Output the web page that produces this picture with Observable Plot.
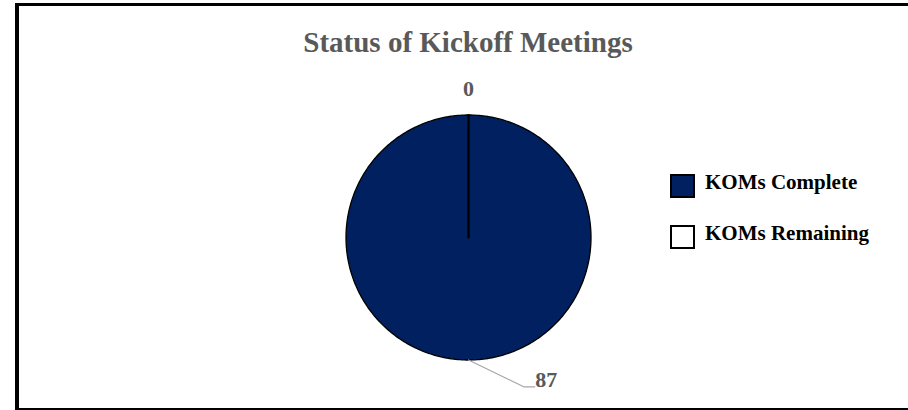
<!DOCTYPE html>
<html>
<head>
<meta charset="utf-8">
<script src="https://cdn.jsdelivr.net/npm/d3@7"></script>
<script src="https://cdn.jsdelivr.net/npm/@observablehq/plot@0.6"></script>
<style>
html, body { margin: 0; padding: 0; background: #fff; overflow: hidden; width: 908px; height: 410px; }
#wrap { position: relative; width: 908px; height: 410px; font-family: "Liberation Serif", "Times New Roman", serif; }
#chart { position: absolute; left: 0; top: 0; }
#frame { position: absolute; left: 15px; top: 3px; width: 1000px; height: 402px;
  border-top: 3px solid #000; border-left: 4px solid #000; border-bottom: 2px solid #000; pointer-events: none; }
#title { position: absolute; left: 0; width: 936px; top: 28px; text-align: center; font-weight: bold;
  font-size: 29px; line-height: 29px; color: #595959; white-space: nowrap; }
.sw { position: absolute; left: 670px; width: 21px; height: 20px; border: 2px solid #000; box-sizing: content-box; }
.lt { position: absolute; left: 705px; font-weight: bold; font-size: 21px; line-height: 21px; color: #000; white-space: nowrap; }
</style>
</head>
<body>
<div id="wrap">
  <div id="chart"></div>
  <div id="title"></div>
  <div id="legend"></div>
  <div id="frame"></div>
</div>
<script>
// ---- data ----
const title = "Status of Kickoff Meetings";
const categories = ["KOMs Complete", "KOMs Remaining"];
const values = [87, 0];
const colors = ["#002060", "#ffffff"];

// ---- layout constants ----
const W = 908, H = 410;
const CX = 468, CY = 237, R = 122.5;   // pie centre and radius in pixels

// pie angles (clockwise from 12 o'clock, like the spreadsheet)
const arcs = d3.pie().sort(null).startAngle(0).endAngle(2 * Math.PI)(values);

// polygons in unit coordinates (radius 1, y up)
const poly = [];
arcs.forEach((a, i) => {
  const span = a.endAngle - a.startAngle;
  const n = Math.max(2, Math.ceil(span / (Math.PI / 180)));
  poly.push({cat: categories[i], value: values[i], x: 0, y: 0});
  for (let k = 0; k <= n; k++) {
    const t = a.startAngle + span * k / n;
    poly.push({cat: categories[i], value: values[i], x: Math.sin(t), y: Math.cos(t)});
  }
  poly.push({cat: categories[i], value: values[i], x: 0, y: 0});
});

// data labels
const labels = arcs.map((a, i) => {
  const mid = (a.startAngle + a.endAngle) / 2;
  return {cat: categories[i], value: values[i], mid, x: Math.sin(mid) * 1.215, y: Math.cos(mid) * 1.215};
});
// the large slice's label sits beside the bottom of the pie with a leader line
const big = labels[0];
const leaderShift = 0.545, leaderDrop = -1.16;
const leader = [
  {x: Math.sin(big.mid), y: Math.cos(big.mid)},
  {x: leaderShift - 0.09, y: leaderDrop - 0.06},
  {x: leaderShift - 0.005, y: leaderDrop - 0.06}
];
big.x = leaderShift; big.y = leaderDrop; big.anchor = "start";
labels[1].anchor = "middle";

const font = '"Liberation Serif", "Times New Roman", serif';

const chart = Plot.plot({
  width: W, height: H, margin: 0,
  x: {domain: [-CX / R, (W - CX) / R], axis: null},
  y: {domain: [(CY - H) / R, CY / R], axis: null},
  color: {domain: categories, range: colors},
  style: {background: "transparent", fontFamily: font},
  marks: [
    Plot.line(poly.filter(d => d.value > 0), {x: "x", y: "y", z: "cat", fill: "cat", stroke: "#000", strokeWidth: 1.3, curve: "linear"}),
    Plot.line(poly.filter(d => d.value === 0), {x: "x", y: "y", z: "cat", fill: "cat", stroke: "#000", strokeWidth: 2.2, curve: "linear"}),
    Plot.line(leader, {x: "x", y: "y", stroke: "#a6a6a6", strokeWidth: 1.2}),
    Plot.text(labels.filter(d => d.anchor === "start"), {x: "x", y: "y", text: d => String(d.value), textAnchor: "start",
      fontSize: 22, fontWeight: "bold", fill: "#595959", fontFamily: font}),
    Plot.text(labels.filter(d => d.anchor === "middle"), {x: "x", y: "y", text: d => String(d.value), textAnchor: "middle",
      fontSize: 22, fontWeight: "bold", fill: "#595959", fontFamily: font})
  ]
});
document.getElementById("chart").appendChild(chart);
document.getElementById("title").textContent = title;

// legend
const lg = document.getElementById("legend");
categories.forEach((c, i) => {
  const sw = document.createElement("div");
  sw.className = "sw";
  sw.style.top = (174 + i * 51) + "px";
  sw.style.background = colors[i];
  lg.appendChild(sw);
  const t = document.createElement("div");
  t.className = "lt";
  t.style.top = (172 + i * 51) + "px";
  t.textContent = c;
  lg.appendChild(t);
});
</script>
</body>
</html>
